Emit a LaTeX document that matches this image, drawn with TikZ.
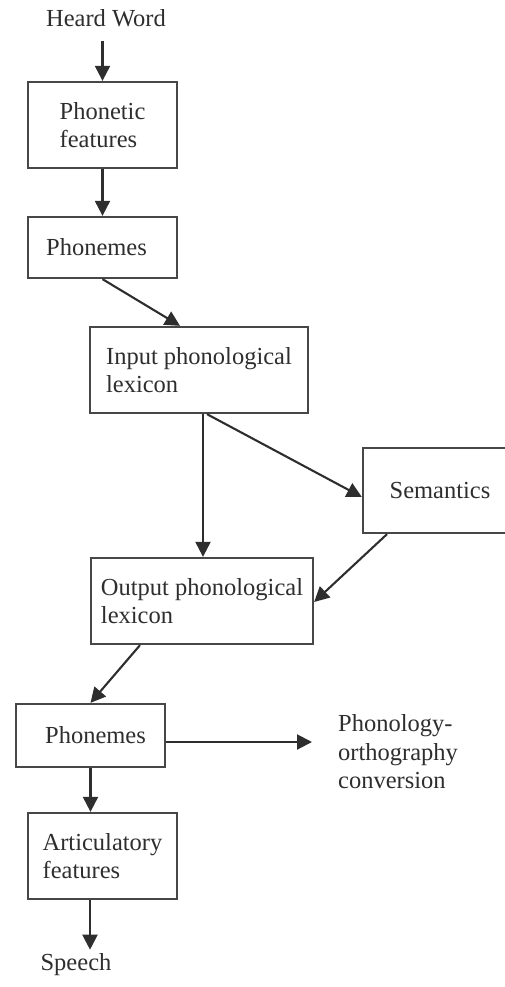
\documentclass[tikz,border=0pt]{standalone}
\usepackage{fontspec}
\setmainfont{Liberation Serif}
\usetikzlibrary{arrows.meta,calc}
\begin{document}
\begin{tikzpicture}[x=1pt,y=-1pt,
  every node/.style={font=\fontsize{24.5}{28.5}\selectfont, text=black!82},
  box/.style={draw=black!72, line width=2.3pt, rectangle, align=left, inner sep=0pt},
  lbl/.style={inner sep=0pt, align=left},
  arr/.style={draw=black!82, line width=2.1pt, -{Triangle[width=15pt,length=15pt]}}]
\useasboundingbox (0,0) rectangle (504,987);
\node[lbl] (heard) at (106,18) {Heard Word};
\node[box, minimum width=149pt, minimum height=86pt] (pf) at (102.5,125) {Phonetic\\features};
\node[box, minimum width=149pt, minimum height=61pt] (ph1) at (102.5,247.5) {Phonemes\hspace*{12pt}};
\node[box, minimum width=218pt, minimum height=86pt] (ipl) at (199,370) {Input phonological\\lexicon};
\node[box, minimum width=154pt, minimum height=85pt] (sem) at (440,490.5) {Semantics};
\node[box, minimum width=222pt, minimum height=86pt] (opl) at (202,601) {Output phonological\\lexicon};
\node[box, minimum width=149pt, minimum height=63pt] (ph2) at (90.5,735.5) {\hspace*{10pt}Phonemes};
\node[box, minimum width=149pt, minimum height=86pt] (art) at (102.5,856) {Articulatory\\features};
\node[lbl, anchor=west] (poc) at (338,752) {Phonology-\\orthography\\conversion};
\node[lbl] (speech) at (76,965) {Speech};

\draw[arr, shorten <=14pt] (heard.south -| pf.north) -- (pf.north);
\draw[arr] (pf.south) -- (ph1.north);
\draw[arr] (ph1.south) -- ([xshift=-19pt]ipl.north);
\draw[arr] ([xshift=4pt]ipl.south) -- ([xshift=4pt]ipl.south |- opl.north);
\draw[arr] ([xshift=8pt]ipl.south) -- ([yshift=-6.5pt]sem.west);
\draw[arr] ([xshift=-53pt]sem.south) -- ([yshift=-1pt]opl.east);
\draw[arr] ([xshift=-62pt]opl.south) -- (ph2.north);
\draw[arr, shorten >=26pt] ([yshift=-6.5pt]ph2.east) -- ([yshift=-6.5pt]ph2.east -| poc.west);
\draw[arr] (ph2.south) -- (ph2.south |- art.north);
\draw[arr, shorten >=4pt] ([xshift=-12.5pt]art.south) -- ([xshift=-12.5pt]art.south |- speech.north);
\end{tikzpicture}
\end{document}
